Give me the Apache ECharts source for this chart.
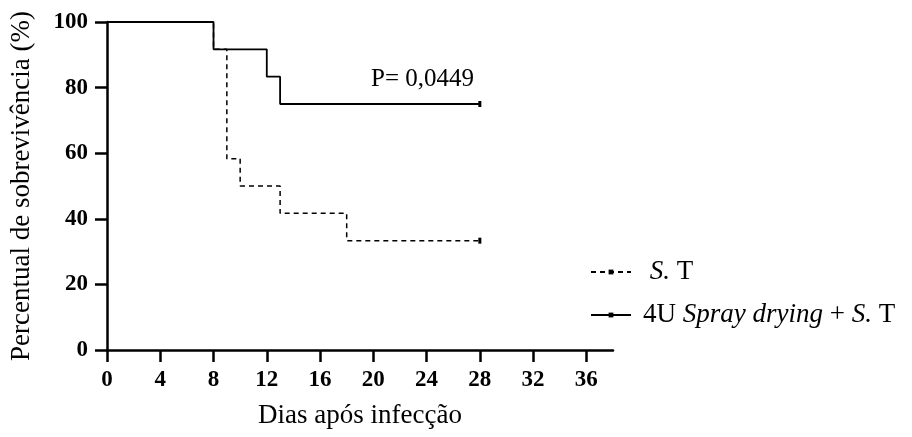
<!DOCTYPE html>
<html>
<head>
    <meta charset="utf-8">
    <title>Sobrevivência</title>
    <script src="https://cdn.jsdelivr.net/npm/echarts@6/dist/echarts.min.js"></script>
</head>
<body style="margin:0">
<div id="main" style="width: 912px;height:437px;"></div>
<script type="text/javascript">
    // Kaplan-Meier steps: [day, % survival]
    var stDays = [0, 8, 9, 10, 13, 18, 28];
    var stSurv = [100, 91.67, 58.33, 50, 41.67, 33.33, 33.33];
    var sprayDays = [0, 8, 12, 13, 28];
    var spraySurv = [100, 91.67, 83.33, 75, 75];
    var xTicks = [0, 4, 8, 12, 16, 20, 24, 28, 32, 36];
    var yTicks = [0, 20, 40, 60, 80, 100];

    var font = '"Liberation Serif", "DejaVu Serif", serif';

    function pairs(xs, ys) {
        return xs.map(function (x, i) { return [x, ys[i]]; });
    }
    // only the last point (censored end) gets a small mark
    function endMark(n) {
        return function (v, p) { return p.dataIndex === n - 1 ? [3, 6] : 0; };
    }

    var myChart = echarts.init(document.getElementById('main'));

    option = {
        animation: false,
        textStyle: { fontFamily: font },
        grid: { left: 106, top: 22, right: 299, bottom: 87 },
        legend: {
            orient: 'vertical',
            left: 585,
            top: 253,
            itemWidth: 40,
            itemHeight: 6,
            itemGap: 15,
            data: ['S. T', '4U Spray drying + S. T'],
            textStyle: {
                fontFamily: font, fontSize: 27, lineHeight: 28, color: '#000', padding: [0, 0, 0, 7],
                rich: { it: { fontStyle: 'italic', fontFamily: font, fontSize: 27, lineHeight: 28, color: '#000' } }
            },
            formatter: function (name) {
                if (name === 'S. T') return ' {it|S.} T';
                return '4U {it|Spray drying} + {it|S.} T';
            }
        },
        xAxis: {
            type: 'value',
            min: 0,
            max: 38,
            name: 'Dias após infecção',
            nameLocation: 'middle',
            nameGap: 52,
            nameTextStyle: { fontFamily: font, fontSize: 27, color: '#000' },
            splitLine: { show: false },
            axisLine: { lineStyle: { color: '#000', width: 2.5 } },
            axisTick: { customValues: xTicks, length: 12, lineStyle: { color: '#000', width: 2.5 } },
            axisLabel: {
                customValues: xTicks, margin: 19, fontSize: 23, fontWeight: 'bold',
                fontFamily: font, color: '#000'
            }
        },
        yAxis: {
            type: 'value',
            min: 0,
            max: 100,
            interval: 20,
            name: 'Percentual de sobrevivência (%)',
            nameLocation: 'middle',
            nameGap: 72,
            nameTextStyle: { fontFamily: font, fontSize: 27, color: '#000' },
            splitLine: { show: false },
            axisLine: { lineStyle: { color: '#000', width: 2.5 } },
            axisTick: { customValues: yTicks, length: 12, lineStyle: { color: '#000', width: 2.5 } },
            axisLabel: {
                customValues: yTicks, margin: 19, fontSize: 23, fontWeight: 'bold',
                fontFamily: font, color: '#000'
            }
        },
        graphic: [{
            type: 'text',
            left: 371,
            top: 67,
            style: { text: 'P= 0,0449', font: '25px ' + font, fill: '#000' }
        }],
        series: [{
            name: 'S. T',
            type: 'line',
            step: 'end',
            data: pairs(stDays, stSurv),
            symbol: 'rect',
            symbolSize: endMark(stDays.length),
            itemStyle: { color: '#000' },
            lineStyle: { color: '#000', width: 1.5, type: [5, 4] },
            z: 2
        }, {
            name: '4U Spray drying + S. T',
            type: 'line',
            step: 'end',
            data: pairs(sprayDays, spraySurv),
            symbol: 'rect',
            symbolSize: endMark(sprayDays.length),
            itemStyle: { color: '#000' },
            lineStyle: { color: '#000', width: 1.8 },
            z: 3
        }]
    };

    myChart.setOption(option);
</script>
</body>
</html>
